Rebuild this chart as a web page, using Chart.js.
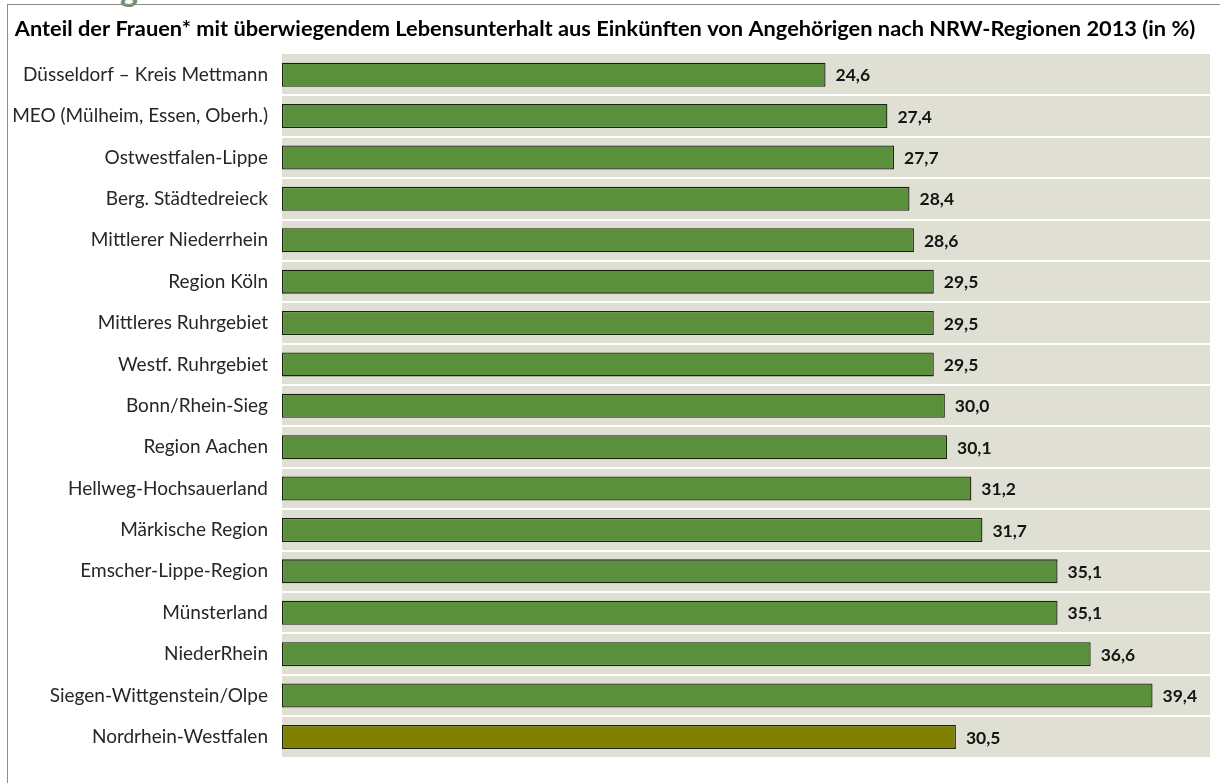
<!DOCTYPE html>
<html lang="de">
<head>
<meta charset="UTF-8">
<title>Anteil der Frauen nach NRW-Regionen 2013</title>
<script src="https://cdn.jsdelivr.net/npm/chart.js"></script>
<style>
    html, body { margin: 0; padding: 0; background: #fff; }
    #wrap { position: relative; width: 1220px; height: 783px; overflow: hidden; }
    #frame {
        position: absolute; left: 7px; top: 4px; right: 0; bottom: 0;
        border-top: 1.5px solid #8c8c8c; border-left: 1.5px solid #8c8c8c;
        pointer-events: none;
    }
    #head {
        position: absolute; left: 120px; top: -33px;
        font: bold 34px Lato, sans-serif; color: #6f8f6a;
    }
    canvas { position: absolute; left: 0; top: 0; }
</style>
</head>
<body>
<div id="wrap">
    <div id="head">g</div>
    <canvas id="chart" width="1220" height="783"></canvas>
    <div id="frame"></div>
</div>
<script>
    const regions = [
        'Düsseldorf – Kreis Mettmann',
        'MEO (Mülheim, Essen, Oberh.)',
        'Ostwestfalen-Lippe',
        'Berg. Städtedreieck',
        'Mittlerer Niederrhein',
        'Region Köln',
        'Mittleres Ruhrgebiet',
        'Westf. Ruhrgebiet',
        'Bonn/Rhein-Sieg',
        'Region Aachen',
        'Hellweg-Hochsauerland',
        'Märkische Region',
        'Emscher-Lippe-Region',
        'Münsterland',
        'NiederRhein',
        'Siegen-Wittgenstein/Olpe',
        'Nordrhein-Westfalen'
    ];
    const shares = [24.6, 27.4, 27.7, 28.4, 28.6, 29.5, 29.5, 29.5, 30.0, 30.1, 31.2, 31.7, 35.1, 35.1, 36.6, 39.4, 30.5];
    const titleText = 'Anteil der Frauen* mit überwiegendem Lebensunterhalt aus Einkünften von Angehörigen nach NRW-Regionen 2013 (in %)';

    const regionColor = '#5a8f3c';
    const totalColor = '#7f7f00';

    // beige plot background
    const plotBackground = {
        id: 'plotBackground',
        beforeDraw(chart) {
            const { ctx, chartArea: a } = chart;
            ctx.save();
            ctx.fillStyle = '#dfdfd3';
            ctx.fillRect(a.left, a.top, a.right - a.left, a.bottom - a.top);
            ctx.restore();
        }
    };

    // value labels right of each bar, decimal comma
    const valueLabels = {
        id: 'valueLabels',
        afterDatasetsDraw(chart) {
            const { ctx } = chart;
            const meta = chart.getDatasetMeta(0);
            ctx.save();
            ctx.font = 'bold 17.5px Lato, sans-serif';
            ctx.fillStyle = '#141414';
            ctx.textAlign = 'left';
            ctx.textBaseline = 'middle';
            meta.data.forEach((bar, i) => {
                ctx.fillText(shares[i].toFixed(1).replace('.', ','), bar.x + 10, bar.y + 1);
            });
            ctx.restore();
        }
    };

    new Chart(document.getElementById('chart'), {
        type: 'bar',
        data: {
            labels: regions,
            datasets: [{
                data: shares,
                backgroundColor: regions.map((r, i) => i === regions.length - 1 ? totalColor : regionColor),
                borderColor: '#18220f',
                borderWidth: 1.3,
                borderSkipped: false,
                barPercentage: 0.58,
                categoryPercentage: 1
            }]
        },
        options: {
            indexAxis: 'y',
            responsive: false,
            animation: false,
            layout: { padding: { top: 0, right: 10, bottom: 9, left: 0 } },
            plugins: {
                legend: { display: false },
                tooltip: { enabled: false },
                title: {
                    display: true,
                    text: titleText,
                    color: '#000',
                    font: { family: 'Lato, sans-serif', size: 21.8, weight: 'bold', lineHeight: 1 },
                    padding: { top: 18, bottom: 14.2 }
                }
            },
            scales: {
                x: { display: false, min: 0, max: 42 },
                y: {
                    afterFit(scale) { scale.width = 282; },
                    border: { display: false },
                    grid: {
                        offset: true,
                        drawTicks: false,
                        lineWidth: 2,
                        color: ctx => (ctx.index === 0 || ctx.index >= regions.length) ? 'rgba(0,0,0,0)' : '#ffffff'
                    },
                    ticks: {
                        padding: 14,
                        color: '#262626',
                        font: { family: 'Lato, sans-serif', size: 19 }
                    }
                }
            }
        },
        plugins: [plotBackground, valueLabels]
    });
</script>
</body>
</html>
